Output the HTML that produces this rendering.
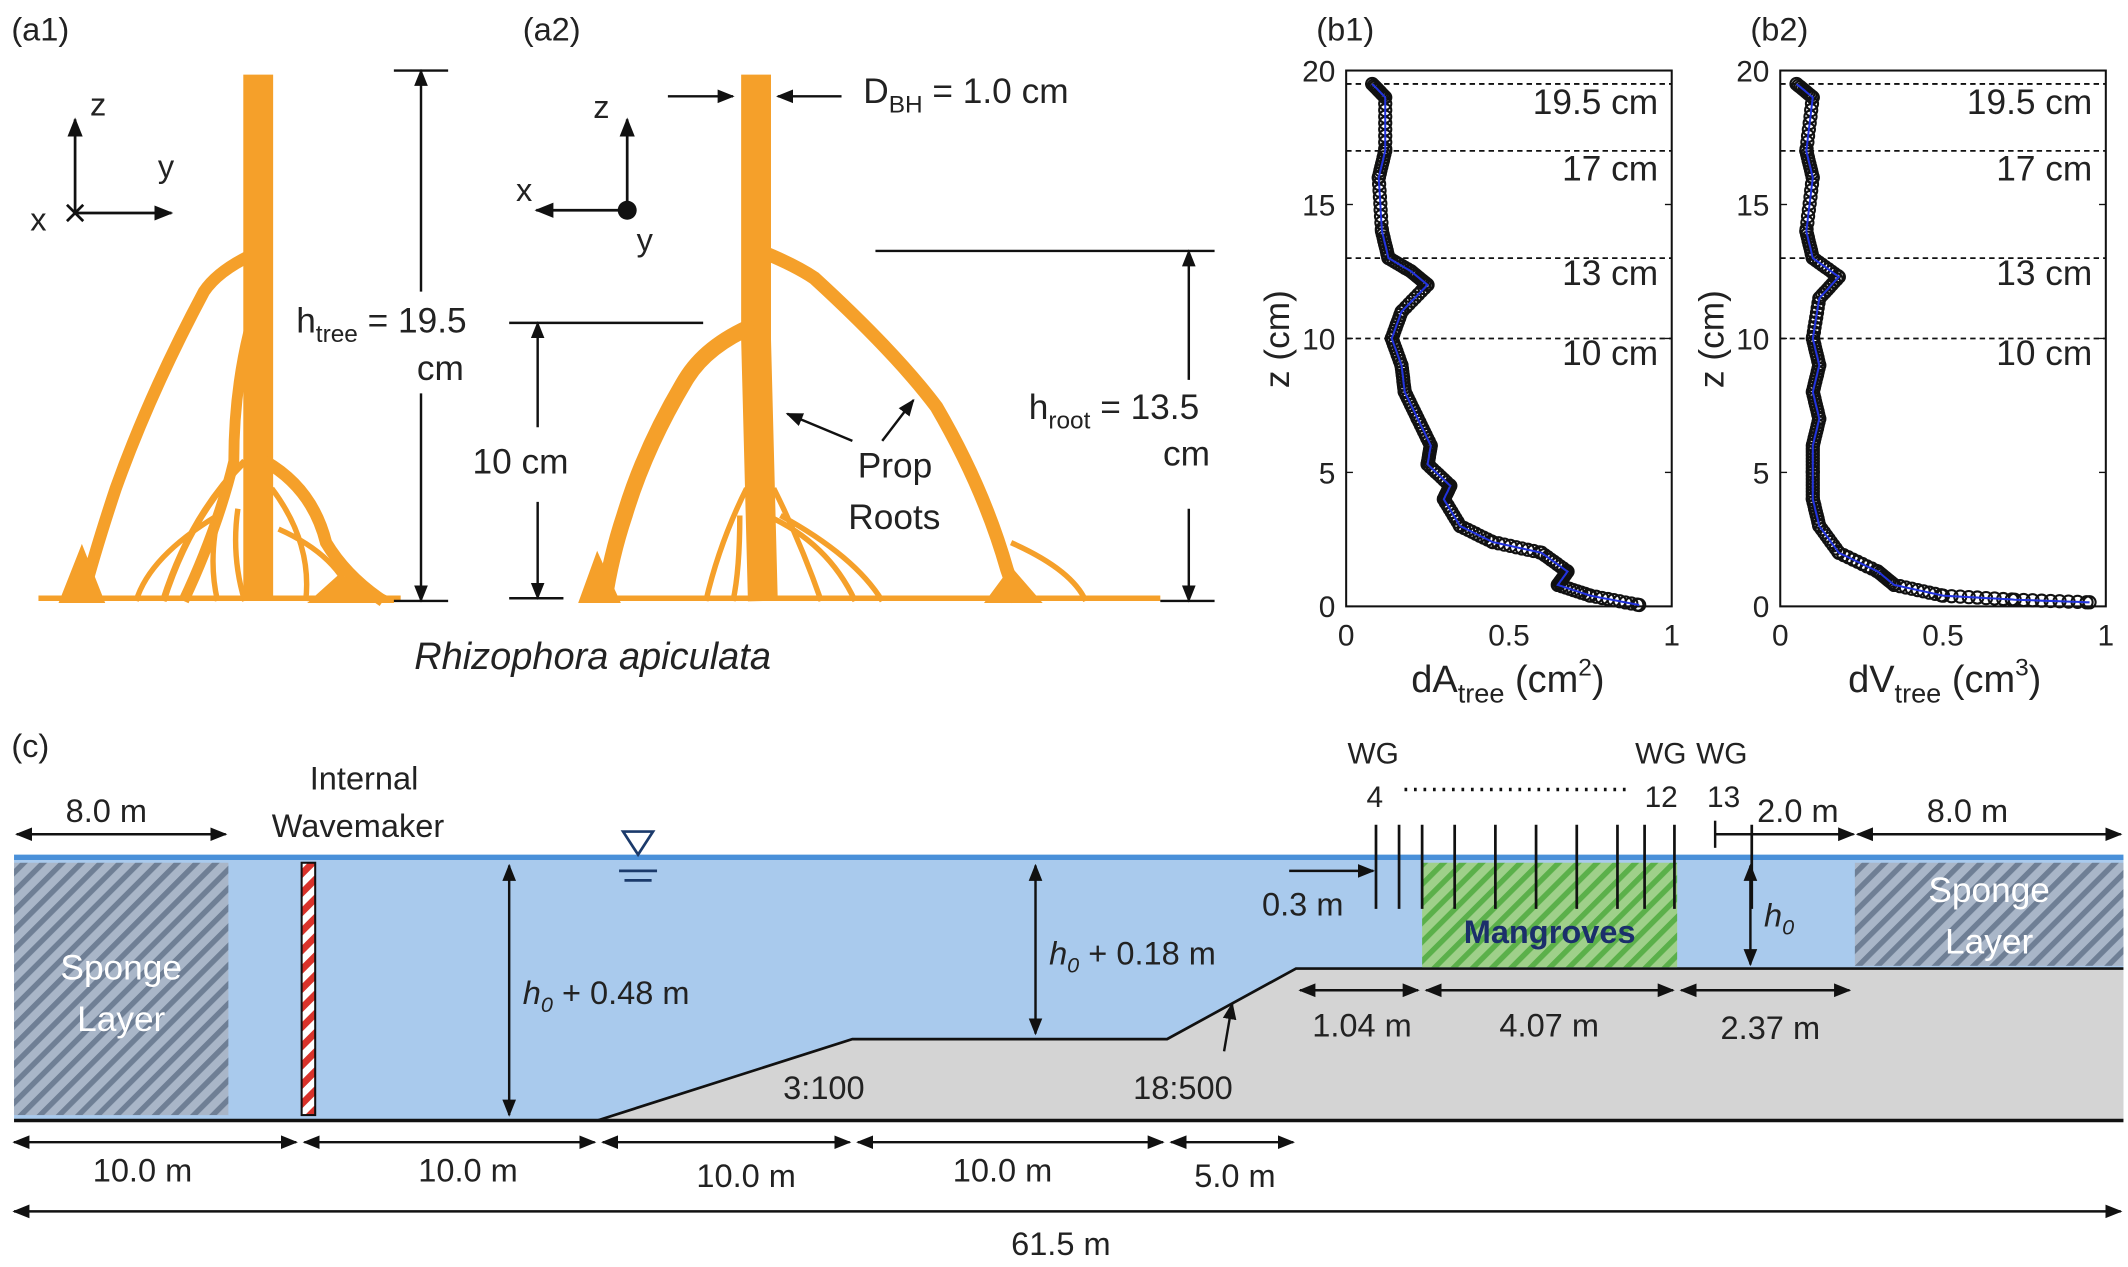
<!DOCTYPE html>
<html><head><meta charset="utf-8"><style>
html,body{margin:0;padding:0;background:#fff;}
svg{display:block;}
text{font-family:"Liberation Sans",sans-serif;fill:#222;}
</style></head><body>
<svg id="s" width="2128" height="1267" viewBox="0 0 1568 934" xmlns="http://www.w3.org/2000/svg">
<defs>
<marker id="ar" viewBox="0 0 10 10" refX="9" refY="5" markerWidth="7" markerHeight="7" orient="auto-start-reverse"><path d="M0,1 L10,5 L0,9 z" fill="#111"/></marker>
<pattern id="hg" width="10" height="10" patternUnits="userSpaceOnUse" patternTransform="rotate(45)"><rect width="10" height="10" fill="#a9b6c8"/><rect width="4" height="10" fill="#6f7f95"/></pattern>
<pattern id="hm" width="10" height="10" patternUnits="userSpaceOnUse" patternTransform="rotate(45)"><rect width="10" height="10" fill="#9fd08a"/><rect width="4" height="10" fill="#5bb04a"/></pattern>
<pattern id="wm" width="10" height="10" patternUnits="userSpaceOnUse" patternTransform="rotate(45)"><rect width="10" height="10" fill="#fff"/><rect width="5" height="10" fill="#d9332b"/></pattern>
</defs>

<text x="8" y="30" font-size="24">(a1)</text>
<text x="385" y="30" font-size="24">(a2)</text>
<text x="970" y="30" font-size="24">(b1)</text>
<text x="1290" y="30" font-size="24">(b2)</text>
<text x="8" y="558" font-size="24">(c)</text>

<!-- tree a1 -->
<g stroke="#f5a02a" fill="none" stroke-linecap="butt">
<path d="M190,55 L190,443" stroke-width="22"/>
<path d="M185,188 Q160,200 150,215 Q110,290 85,360 Q70,405 60,443" stroke-width="9"/>
<path d="M183,245 Q172,290 172,340 Q160,390 135,443" stroke-width="8"/>
<path d="M195,340 Q230,360 240,400 Q255,425 282,443" stroke-width="9"/>
<path d="M180,340 Q140,380 120,443" stroke-width="5"/>
<path d="M170,350 Q150,400 160,443 M200,360 Q230,400 225,443 M175,375 Q170,410 180,443 M160,380 Q110,410 100,443 M205,390 Q250,410 260,443" stroke-width="4"/>
<path d="M28,441 L295,441" stroke-width="4"/>
<path d="M60,405 L75,443 L45,443 z M250,425 L290,443 L230,443 z" stroke-width="3" fill="#f5a02a"/>
</g>
<!-- tree a2 -->
<g stroke="#f5a02a" fill="none" stroke-linecap="butt">
<path d="M557,55 L557,250 L562,443" stroke-width="22"/>
<path d="M560,185 Q585,195 600,205 Q660,260 690,300 Q725,360 742,420 L750,443" stroke-width="10"/>
<path d="M555,240 Q520,255 505,280 Q475,330 460,380 Q450,410 445,443" stroke-width="12"/>
<path d="M550,360 Q530,400 520,443 M570,360 Q590,400 605,443 M565,380 Q610,400 630,443 M545,380 Q545,420 540,443 M575,380 Q630,410 650,443" stroke-width="4"/>
<path d="M745,400 Q790,420 800,443" stroke-width="4"/>
<path d="M428,441 L855,441" stroke-width="4"/>
<path d="M440,410 L455,443 L428,443 z M745,420 L765,443 L728,443 z" stroke-width="3" fill="#f5a02a"/>
</g>

<g stroke="#111" stroke-width="2" fill="none">
<line x1="55" y1="157" x2="55" y2="88" marker-end="url(#ar)"/>
<line x1="55" y1="157" x2="126" y2="157" marker-end="url(#ar)"/>
<line x1="49" y1="151" x2="61" y2="163"/><line x1="61" y1="151" x2="49" y2="163"/>
<line x1="462" y1="155" x2="462" y2="88" marker-end="url(#ar)"/>
<line x1="462" y1="155" x2="395" y2="155" marker-end="url(#ar)"/>
</g>
<circle cx="462" cy="155" r="7" fill="#111"/>
<text x="66" y="85" font-size="24">z</text><text x="116" y="131" font-size="24">y</text><text x="22" y="170" font-size="24">x</text>
<text x="437" y="87" font-size="24">z</text><text x="380" y="148" font-size="24">x</text><text x="469" y="185" font-size="24">y</text>

<g stroke="#111" stroke-width="1.8" fill="none">
<line x1="290" y1="52" x2="330" y2="52"/><line x1="290" y1="443" x2="330" y2="443"/>
<line x1="310" y1="52" x2="310" y2="215" marker-start="url(#ar)"/>
<line x1="310" y1="290" x2="310" y2="443" marker-end="url(#ar)"/>
<line x1="375" y1="238" x2="518" y2="238"/><line x1="375" y1="441" x2="415" y2="441"/>
<line x1="396" y1="238" x2="396" y2="315" marker-start="url(#ar)"/>
<line x1="396" y1="370" x2="396" y2="441" marker-end="url(#ar)"/>
<line x1="492" y1="71" x2="540" y2="71" marker-end="url(#ar)"/>
<line x1="620" y1="71" x2="573" y2="71" marker-end="url(#ar)"/>
<line x1="645" y1="185" x2="895" y2="185"/><line x1="855" y1="443" x2="895" y2="443"/>
<line x1="876" y1="185" x2="876" y2="280" marker-start="url(#ar)"/>
<line x1="876" y1="375" x2="876" y2="443" marker-end="url(#ar)"/>
<line x1="628" y1="325" x2="580" y2="305" marker-end="url(#ar)"/>
<line x1="650" y1="325" x2="673" y2="295" marker-end="url(#ar)"/>
</g>
<text x="218" y="245" font-size="26">h<tspan font-size="18" dy="7">tree</tspan><tspan dy="-7"> = 19.5</tspan></text>
<text x="307" y="280" font-size="26">cm</text>
<text x="348" y="349" font-size="26">10 cm</text>
<text x="636" y="76" font-size="26">D<tspan font-size="18" dy="7">BH</tspan><tspan dy="-7"> = 1.0 cm</tspan></text>
<text x="758" y="309" font-size="26">h<tspan font-size="18" dy="7">root</tspan><tspan dy="-7"> = 13.5</tspan></text>
<text x="857" y="343" font-size="26">cm</text>
<text x="632" y="352" font-size="26">Prop</text>
<text x="625" y="390" font-size="26">Roots</text>
<text x="305" y="493" font-size="28" font-style="italic">Rhizophora apiculata</text>

<g id="plots"></g>

<rect x="10" y="632" width="1555" height="194" fill="#a9caed"/>
<polygon points="440,826 628,766 860,766 955,714 1565,714 1565,826" fill="#d4d4d4"/>
<polyline points="440,826 628,766 860,766 955,714 1565,714" fill="none" stroke="#111" stroke-width="2"/>
<line x1="10" y1="826" x2="1565" y2="826" stroke="#111" stroke-width="2.5"/>
<line x1="10" y1="632" x2="1565" y2="632" stroke="#4a90d9" stroke-width="4"/>
<rect x="10" y="636" width="158" height="186" fill="url(#hg)"/>
<rect x="1367" y="636" width="198" height="76" fill="url(#hg)"/>
<rect x="1048" y="636" width="188" height="77" fill="url(#hm)"/>
<rect x="222" y="636" width="10" height="186" fill="url(#wm)" stroke="#111" stroke-width="1.5"/>
<text x="89" y="722" font-size="26" style="fill:#fff" text-anchor="middle">Sponge</text>
<text x="89" y="760" font-size="26" style="fill:#fff" text-anchor="middle">Layer</text>
<text x="1466" y="665" font-size="26" style="fill:#fff" text-anchor="middle">Sponge</text>
<text x="1466" y="703" font-size="26" style="fill:#fff" text-anchor="middle">Layer</text>
<text x="1142" y="695" font-size="24" font-weight="bold" style="fill:#1b2f6b" text-anchor="middle">Mangroves</text>
<path d="M459,613 L481,613 L470,630 z" fill="none" stroke="#1b3a6b" stroke-width="2"/>
<line x1="456" y1="642" x2="484" y2="642" stroke="#1b3a6b" stroke-width="2"/>
<line x1="460" y1="649" x2="480" y2="649" stroke="#1b3a6b" stroke-width="2"/>
<g stroke="#111" stroke-width="2">
<line x1="1014" y1="608" x2="1014" y2="670"/><line x1="1031" y1="608" x2="1031" y2="670"/><line x1="1048" y1="608" x2="1048" y2="670"/>
<line x1="1072" y1="608" x2="1072" y2="670"/><line x1="1102" y1="608" x2="1102" y2="670"/><line x1="1132" y1="608" x2="1132" y2="670"/>
<line x1="1162" y1="608" x2="1162" y2="670"/><line x1="1192" y1="608" x2="1192" y2="670"/><line x1="1212" y1="608" x2="1212" y2="670"/>
<line x1="1234" y1="608" x2="1234" y2="670"/><line x1="1291" y1="608" x2="1291" y2="670"/>
</g>
<line x1="1035" y1="582" x2="1200" y2="582" stroke="#111" stroke-width="2.5" stroke-dasharray="2,5"/>
<text x="993" y="563" font-size="22">WG</text><text x="1007" y="595" font-size="22">4</text>
<text x="1205" y="563" font-size="22">WG</text><text x="1212" y="595" font-size="22">12</text>
<text x="1250" y="563" font-size="22">WG</text><text x="1258" y="595" font-size="22">13</text>
<text x="228" y="582" font-size="24">Internal</text>
<text x="200" y="617" font-size="24">Wavemaker</text>
<g stroke="#111" stroke-width="1.8" fill="none">
<line x1="12" y1="615" x2="166" y2="615" marker-start="url(#ar)" marker-end="url(#ar)"/>
<line x1="1369" y1="615" x2="1563" y2="615" marker-start="url(#ar)" marker-end="url(#ar)"/>
<line x1="1264" y1="615" x2="1366" y2="615" marker-end="url(#ar)"/>
<line x1="1264" y1="605" x2="1264" y2="625"/>
<line x1="375" y1="638" x2="375" y2="822" marker-start="url(#ar)" marker-end="url(#ar)"/>
<line x1="763" y1="638" x2="763" y2="762" marker-start="url(#ar)" marker-end="url(#ar)"/>
<line x1="1290" y1="638" x2="1290" y2="711" marker-start="url(#ar)" marker-end="url(#ar)"/>
<line x1="950" y1="642" x2="1012" y2="642" marker-end="url(#ar)"/>
<line x1="958" y1="730" x2="1045" y2="730" marker-start="url(#ar)" marker-end="url(#ar)"/>
<line x1="1051" y1="730" x2="1233" y2="730" marker-start="url(#ar)" marker-end="url(#ar)"/>
<line x1="1239" y1="730" x2="1363" y2="730" marker-start="url(#ar)" marker-end="url(#ar)"/>
<line x1="902" y1="775" x2="908" y2="740" marker-end="url(#ar)"/>
<line x1="10" y1="842" x2="218" y2="842" marker-start="url(#ar)" marker-end="url(#ar)"/>
<line x1="224" y1="842" x2="438" y2="842" marker-start="url(#ar)" marker-end="url(#ar)"/>
<line x1="444" y1="842" x2="626" y2="842" marker-start="url(#ar)" marker-end="url(#ar)"/>
<line x1="632" y1="842" x2="857" y2="842" marker-start="url(#ar)" marker-end="url(#ar)"/>
<line x1="863" y1="842" x2="953" y2="842" marker-start="url(#ar)" marker-end="url(#ar)"/>
<line x1="10" y1="893" x2="1563" y2="893" marker-start="url(#ar)" marker-end="url(#ar)"/>
</g>
<text x="48" y="606" font-size="24">8.0 m</text>
<text x="1420" y="606" font-size="24">8.0 m</text>
<text x="1295" y="606" font-size="24">2.0 m</text>
<text x="385" y="740" font-size="24"><tspan font-style="italic">h</tspan><tspan font-size="16" dy="6" font-style="italic">0</tspan><tspan dy="-6"> + 0.48 m</tspan></text>
<text x="773" y="711" font-size="24"><tspan font-style="italic">h</tspan><tspan font-size="16" dy="6" font-style="italic">0</tspan><tspan dy="-6"> + 0.18 m</tspan></text>
<text x="1300" y="683" font-size="24"><tspan font-style="italic">h</tspan><tspan font-size="16" dy="6" font-style="italic">0</tspan></text>
<text x="930" y="675" font-size="24">0.3 m</text>
<text x="967" y="764" font-size="24">1.04 m</text>
<text x="1105" y="764" font-size="24">4.07 m</text>
<text x="1268" y="766" font-size="24">2.37 m</text>
<text x="577" y="810" font-size="24">3:100</text>
<text x="835" y="810" font-size="24">18:500</text>
<text x="68" y="871" font-size="24">10.0 m</text>
<text x="308" y="871" font-size="24">10.0 m</text>
<text x="513" y="875" font-size="24">10.0 m</text>
<text x="702" y="871" font-size="24">10.0 m</text>
<text x="880" y="875" font-size="24">5.0 m</text>
<text x="745" y="925" font-size="24">61.5 m</text>
</svg>
<script>
(function(){
var g=document.getElementById('plots'),h='';
function plot(x0,data,xl){
 var W=240,y0=447,sy=19.75,X=function(v){return x0+v*W},Y=function(z){return y0-z*sy};
 h+='<rect x="'+x0+'" y="52" width="'+W+'" height="395" fill="none" stroke="#111" stroke-width="1.5"/>';
 [19.5,17,13,10].forEach(function(z){h+='<line x1="'+x0+'" x2="'+(x0+W)+'" y1="'+Y(z)+'" y2="'+Y(z)+'" stroke="#111" stroke-width="1.3" stroke-dasharray="4,3"/>';});
 [[19.5,'19.5 cm',84],[17,'17 cm',133],[13,'13 cm',210],[10,'10 cm',269]].forEach(function(a){h+='<text x="'+(x0+W-10)+'" y="'+a[2]+'" font-size="26" text-anchor="end">'+a[1]+'</text>';});
 [0,5,10,15,20].forEach(function(z){h+='<line x1="'+x0+'" x2="'+(x0+5)+'" y1="'+Y(z)+'" y2="'+Y(z)+'" stroke="#111"/><line x1="'+(x0+W-5)+'" x2="'+(x0+W)+'" y1="'+Y(z)+'" y2="'+Y(z)+'" stroke="#111"/><text x="'+(x0-8)+'" y="'+(Y(z)+8)+'" font-size="22" text-anchor="end">'+z+'</text>';});
 [[0,'0'],[0.5,'0.5'],[1,'1']].forEach(function(a){h+='<text x="'+X(a[0])+'" y="476" font-size="22" text-anchor="middle">'+a[1]+'</text>';});
 h+='<text transform="translate('+(x0-42)+',250) rotate(-90)" font-size="26" text-anchor="middle">z (cm)</text>';
 h+=xl;
 var pts=[],d=[];
 for(var i=0;i<data.length-1;i++){var a=data[i],b=data[i+1];for(var t=0;t<1;t+=0.12){pts.push([a[0]+(b[0]-a[0])*t,a[1]+(b[1]-a[1])*t]);}}
 pts.push(data[data.length-1]);
 pts.forEach(function(p){d.push(X(p[0]).toFixed(1)+','+Y(p[1]).toFixed(1));});
 pts.forEach(function(p){h+='<circle cx="'+X(p[0]).toFixed(1)+'" cy="'+Y(p[1]).toFixed(1)+'" r="4.5" fill="none" stroke="#111" stroke-width="1.5"/>';});
 h+='<polyline points="'+d.join(' ')+'" fill="none" stroke="#2233dd" stroke-width="1.5"/>';
}
plot(992,[[0.08,19.5],[0.12,19],[0.12,17],[0.1,16],[0.11,14],[0.13,13],[0.2,12.5],[0.25,12],[0.17,11],[0.14,10],[0.17,9],[0.18,8],[0.22,7],[0.26,6],[0.25,5.3],[0.32,4.5],[0.3,4],[0.35,3],[0.45,2.4],[0.6,2],[0.68,1.3],[0.65,0.8],[0.75,0.4],[0.9,0.05]],
 '<text x="1040" y="510" font-size="28">dA<tspan font-size="20" dy="8">tree</tspan><tspan dy="-8"> (cm</tspan><tspan font-size="18" dy="-12">2</tspan><tspan dy="12">)</tspan></text>');
plot(1312,[[0.05,19.5],[0.1,19],[0.08,17],[0.1,16],[0.08,14],[0.1,13],[0.18,12.3],[0.12,11.5],[0.1,10],[0.12,9],[0.1,8],[0.12,7],[0.1,6],[0.1,5],[0.1,4],[0.12,3],[0.18,2],[0.3,1.3],[0.35,0.8],[0.5,0.4],[0.72,0.25],[0.95,0.15]],
 '<text x="1362" y="510" font-size="28">dV<tspan font-size="20" dy="8">tree</tspan><tspan dy="-8"> (cm</tspan><tspan font-size="18" dy="-12">3</tspan><tspan dy="12">)</tspan></text>');
g.innerHTML=h;
})();
</script>
</body></html>
